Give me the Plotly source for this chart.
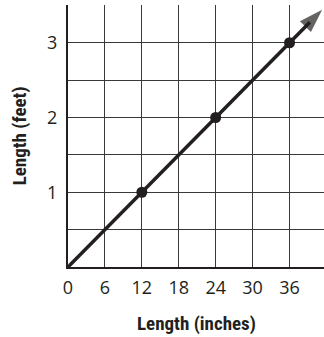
import plotly.graph_objects as go

inches = [0, 12, 24, 36]
feet = [0, 1, 2, 3]
x_ticks = [0, 6, 12, 18, 24, 30, 36]
y_ticks = [0.5, 1, 1.5, 2, 2.5, 3, 3.5]
y_ticktext = ["", "1", "", "2", "", "3", ""]
line_end_inches = 41.3
x_max = 41.6
y_max = 3.505

ink = "#231f20"
fig = go.Figure()
fig.add_trace(go.Scatter(x=[0, line_end_inches - 2], y=[0, (line_end_inches - 2) / 12],
                         mode="lines", line=dict(color=ink, width=3.5), hoverinfo="skip",
                         cliponaxis=False))
fig.add_trace(go.Scatter(x=inches[1:], y=feet[1:], mode="markers",
                         marker=dict(color=ink, size=11), cliponaxis=False))
# arrowhead (tip at line end)
fig.add_trace(go.Scatter(x=[line_end_inches - 1, line_end_inches],
                         y=[(line_end_inches - 1) / 12, line_end_inches / 12],
                         mode="markers", cliponaxis=False,
                         marker=dict(symbol="arrow", angleref="previous", size=[0, 25],
                                     color=ink, line=dict(width=0))))

tickfont = dict(family="Open Sans, Lato, sans-serif", size=18, color=ink)
titlefont = dict(family="Liberation Sans Narrow, Roboto Condensed, Arial Narrow, sans-serif",
                 size=19, color=ink, weight="bold")
fig.update_layout(
    width=324, height=337, margin=dict(l=68, r=0, t=5, b=70),
    plot_bgcolor="white", paper_bgcolor="white", showlegend=False,
    xaxis=dict(range=[0, x_max], tickvals=x_ticks, ticks="", automargin=False,
               showgrid=True, gridcolor="#3a3a3a", gridwidth=1,
               showline=True, linecolor=ink, linewidth=2, zeroline=False,
               tickfont=tickfont, ticklabelstandoff=3),
    yaxis=dict(range=[0, y_max], tickvals=y_ticks, ticktext=y_ticktext, ticks="",
               automargin=False,
               showgrid=True, gridcolor="#3a3a3a", gridwidth=1,
               showline=True, linecolor=ink, linewidth=2, zeroline=False,
               tickfont=tickfont, ticklabelstandoff=5),
)
fig.add_annotation(text="Length (inches)", xref="paper", yref="paper", x=0.5, y=-0.215,
                   showarrow=False, font=titlefont, yanchor="middle")
fig.add_annotation(text="Length (feet)", xref="paper", yref="paper", x=-0.19, y=0.5,
                   showarrow=False, font=titlefont, textangle=-90, xanchor="center")
fig.write_html("out.html", post_script="document.body.style.margin='0';",
               config={"displayModeBar": False})
